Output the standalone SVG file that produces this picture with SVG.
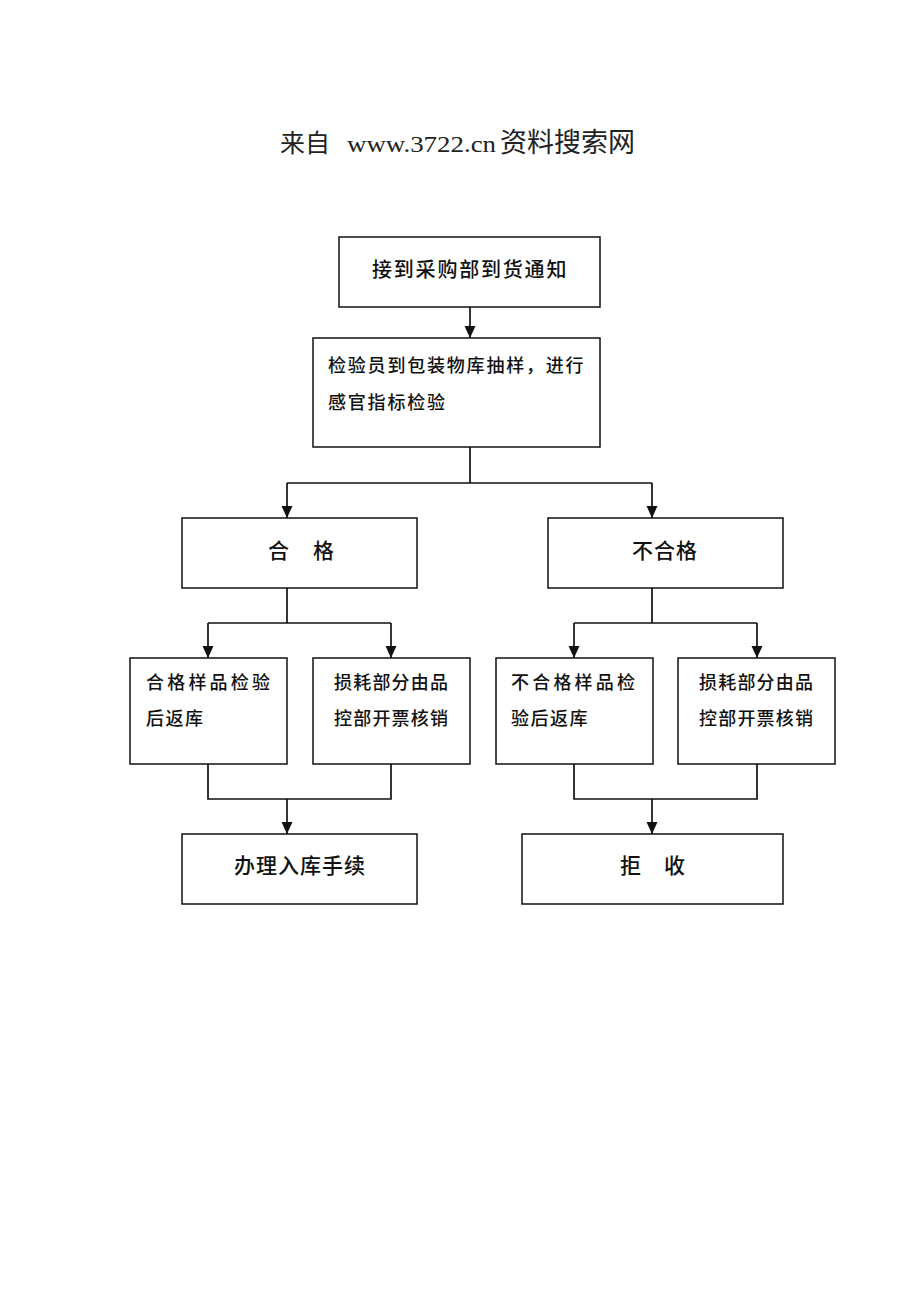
<svg xmlns="http://www.w3.org/2000/svg" width="920" height="1307" viewBox="0 0 920 1307">
<style>
.box{fill:#fff;stroke:#111;stroke-width:1.5}
.t{font-family:"Noto Sans CJK SC","Liberation Sans",sans-serif;font-weight:500;fill:#111}
.c{stroke:#111;stroke-width:1.7;fill:none}
</style>
<defs>
<marker id="ah" viewBox="0 0 12 12" refX="12" refY="6" markerWidth="12" markerHeight="12" markerUnits="userSpaceOnUse" orient="auto">
<path d="M0,0.5 L12,6 L0,11.5 Z" fill="#111"/>
</marker>
</defs>
<rect width="920" height="1307" fill="#fff"/>
<text x="280" y="152" font-size="25" fill="#222"><tspan font-family="Noto Sans CJK SC,sans-serif">来自</tspan><tspan x="347" font-family="Liberation Serif,serif" font-size="24" textLength="149" lengthAdjust="spacingAndGlyphs">www.3722.cn</tspan><tspan x="500" font-family="Noto Sans CJK SC,sans-serif" font-size="27">资料搜索网</tspan></text>

<g id="connectors">
<path class="c" d="M470,307 V338" marker-end="url(#ah)"/>
<path class="c" d="M470,447 V483 M287,483 H652"/>
<path class="c" d="M287,483 V518" marker-end="url(#ah)"/>
<path class="c" d="M652,483 V518" marker-end="url(#ah)"/>
<path class="c" d="M287,588 V623 M208,623 H391"/>
<path class="c" d="M208,623 V658" marker-end="url(#ah)"/>
<path class="c" d="M391,623 V658" marker-end="url(#ah)"/>
<path class="c" d="M652,588 V623 M574,623 H757"/>
<path class="c" d="M574,623 V658" marker-end="url(#ah)"/>
<path class="c" d="M757,623 V658" marker-end="url(#ah)"/>
<path class="c" d="M208,764 V799 H391 V764"/>
<path class="c" d="M287,799 V834" marker-end="url(#ah)"/>
<path class="c" d="M574,764 V799 H757 V764"/>
<path class="c" d="M652,799 V834" marker-end="url(#ah)"/>
</g>

<g id="n1"><rect class="box" x="339" y="237" width="261" height="70"/>
<text class="t" x="372" y="277" font-size="20" letter-spacing="1.8">接到采购部到货通知</text></g>

<g id="n2"><rect class="box" x="313" y="338" width="287" height="109"/>
<text class="t" x="328" y="372" font-size="18" letter-spacing="1.8">检验员到包装物库抽样，进行</text>
<text class="t" x="328" y="409" font-size="18" letter-spacing="1.8">感官指标检验</text></g>

<g id="n3"><rect class="box" x="182" y="518" width="235" height="70"/>
<text class="t" x="268" y="558" font-size="21">合<tspan x="313">格</tspan></text></g>

<g id="n4"><rect class="box" x="548" y="518" width="235" height="70"/>
<text class="t" x="632" y="558" font-size="21" letter-spacing="1">不合格</text></g>

<g id="n5"><rect class="box" x="130" y="658" width="157" height="106"/>
<text class="t" x="146" y="689" font-size="18" letter-spacing="3.2">合格样品检验</text>
<text class="t" x="146" y="725" font-size="18" letter-spacing="1.5">后返库</text></g>

<g id="n6"><rect class="box" x="313" y="658" width="157" height="106"/>
<text class="t" x="334" y="689" font-size="18" letter-spacing="1.2">损耗部分由品</text>
<text class="t" x="334" y="725" font-size="18" letter-spacing="1.2">控部开票核销</text></g>

<g id="n7"><rect class="box" x="496" y="658" width="157" height="106"/>
<text class="t" x="511" y="689" font-size="18" letter-spacing="3.2">不合格样品检</text>
<text class="t" x="511" y="725" font-size="18" letter-spacing="1.5">验后返库</text></g>

<g id="n8"><rect class="box" x="678" y="658" width="157" height="106"/>
<text class="t" x="699" y="689" font-size="18" letter-spacing="1.2">损耗部分由品</text>
<text class="t" x="699" y="725" font-size="18" letter-spacing="1.2">控部开票核销</text></g>

<g id="n9"><rect class="box" x="182" y="834" width="235" height="70"/>
<text class="t" x="234" y="873" font-size="21" letter-spacing="1">办理入库手续</text></g>

<g id="n10"><rect class="box" x="522" y="834" width="261" height="70"/>
<text class="t" x="620" y="873" font-size="21">拒<tspan x="664">收</tspan></text></g>
</svg>
